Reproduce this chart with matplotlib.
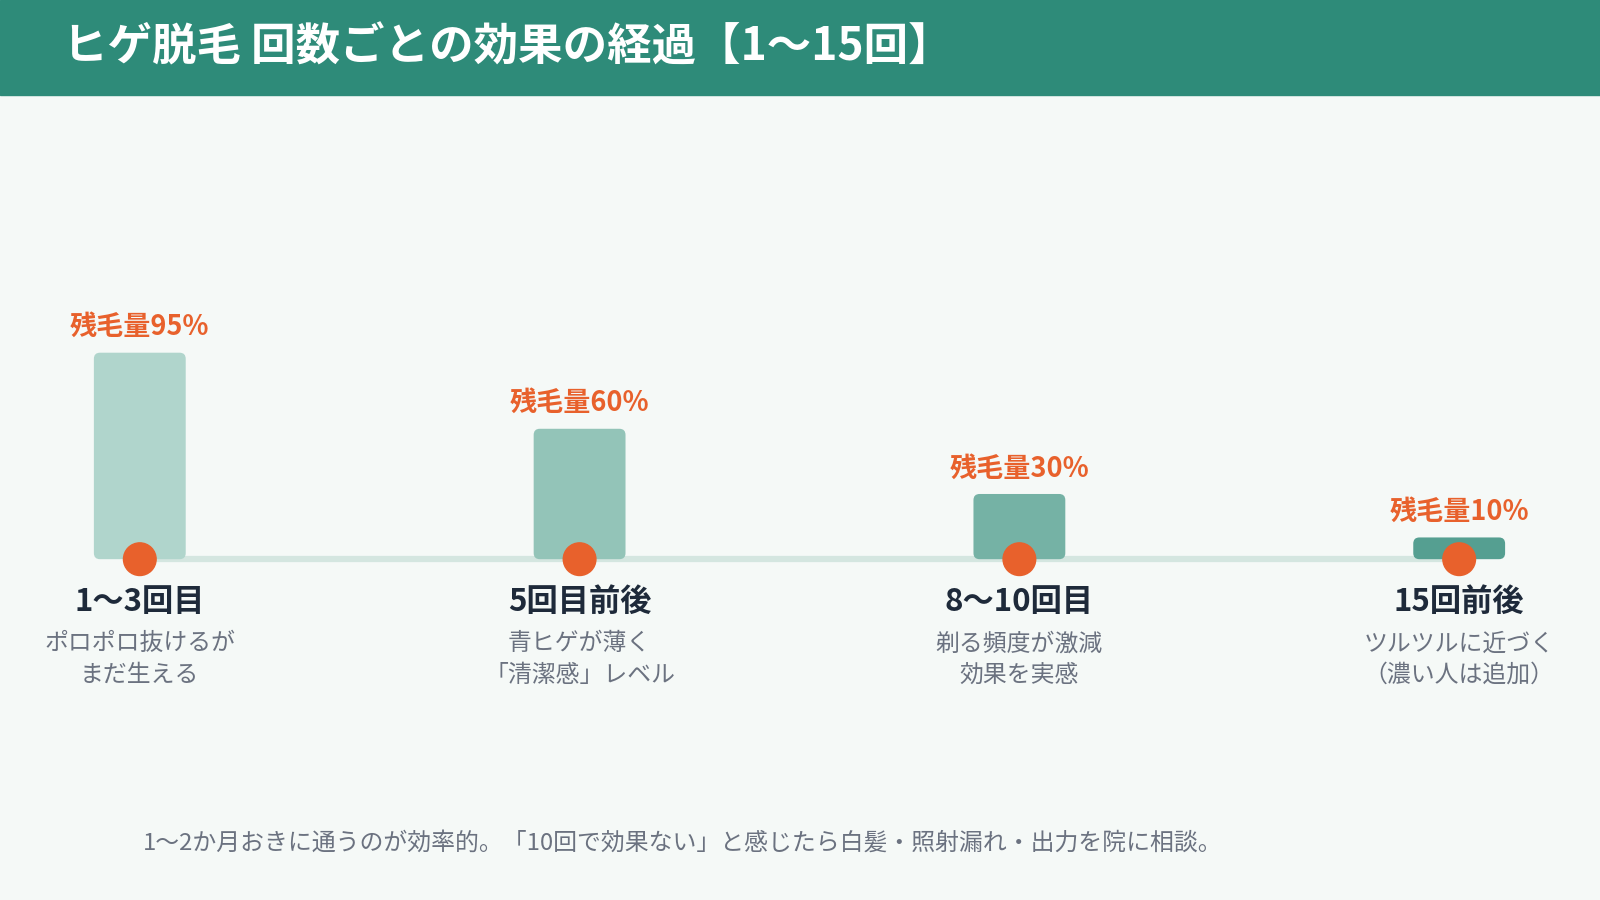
import numpy as np
import matplotlib.pyplot as plt
from matplotlib.patches import FancyBboxPatch, Rectangle, Circle

plt.rcParams['font.family'] = ['Noto Sans CJK JP', 'DejaVu Sans']

title = 'ヒゲ脱毛 回数ごとの効果の経過【1〜15回】'
stages = ['1〜3回目', '5回目前後', '8〜10回目', '15回前後']
remain = [95, 60, 30, 10]
desc_1 = ['ポロポロ抜けるが', '青ヒゲが薄く', '剃る頻度が激減', 'ツルツルに近づく']
desc_2 = ['まだ生える', '「清潔感」レベル', '効果を実感', '（濃い人は追加）']
note = '1〜2か月おきに通うのが効率的。「10回で効果ない」と感じたら白髪・照射漏れ・出力を院に相談。'

bar_colors = ['#B0D5CC', '#93C4B8', '#75B2A5', '#559F91']
header = '#2E8B79'
bg = '#F5F9F7'
orange = '#E8612C'

W, H = 1568, 882
fig = plt.figure(figsize=(16, 9), dpi=100)
fig.patch.set_facecolor(bg)
ax = fig.add_axes([0, 0, 1, 1])
ax.set_xlim(0, W)
ax.set_ylim(H, 0)
ax.axis('off')
ax.set_facecolor(bg)

# header band
ax.add_patch(Rectangle((0, 0), W, 93, color=header, zorder=1))
ax.text(62, 47, title, color='white', fontsize=32, fontweight='bold',
        va='center', ha='left', zorder=2)

base_y = 548
x0, step = 137, 431
bar_w = 90
px_per = 2.13
xs = [x0 + i * step for i in range(len(stages))]

# track line
ax.plot([xs[0], xs[-1]], [base_y, base_y], color='#D4E6E0', lw=4.5,
        solid_capstyle='butt', zorder=2)

for i, x in enumerate(xs):
    h = remain[i] * px_per
    r = min(6, h / 2 - 1)
    ax.add_patch(FancyBboxPatch((x - bar_w / 2 + r, base_y - h + r), bar_w - 2 * r, h - 2 * r,
                                boxstyle=f'round,pad={r}', fc=bar_colors[i], ec='none', zorder=3))
    ax.add_patch(Circle((x, base_y), 16, color=orange, zorder=4))
    ax.text(x, base_y - h - 25, f'残毛量{remain[i]}%', color=orange, fontsize=19.5,
            fontweight='bold', ha='center', va='center', zorder=5)
    ax.text(x, 590, stages[i], color='#1E2A3A', fontsize=22.5, fontweight='bold',
            ha='center', va='center', zorder=5)
    ax.text(x, 631, desc_1[i], color='#6B7280', fontsize=17.2, ha='center', va='center', zorder=5)
    ax.text(x, 662, desc_2[i], color='#6B7280', fontsize=17.2, ha='center', va='center', zorder=5)

ax.text(140, 826, note, color='#6B7280', fontsize=17.2, ha='left', va='center')

fig.savefig('out.png', dpi=100, facecolor=bg)
